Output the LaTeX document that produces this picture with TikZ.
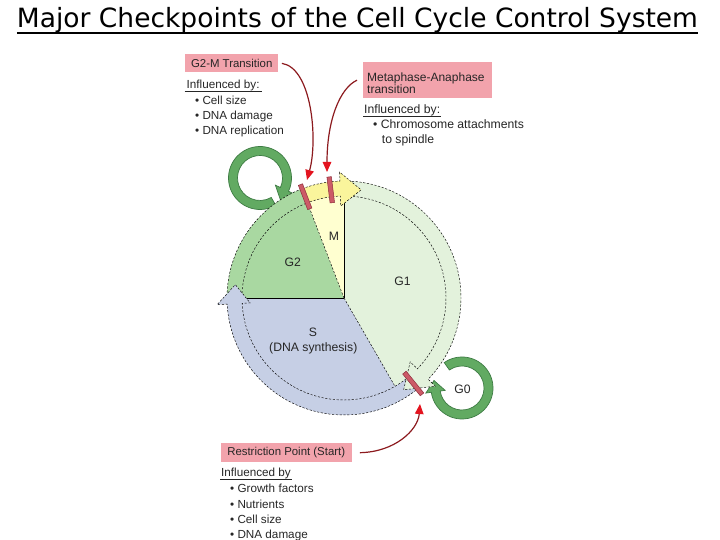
\documentclass[tikz,border=0pt]{standalone}
\usepackage{fontspec}
\setmainfont{Liberation Sans}
\newfontfamily\headfont{DejaVu Sans}
\usetikzlibrary{arrows.meta}
\definecolor{gonepale}{HTML}{E3F2DC}
\definecolor{gtwogreen}{HTML}{A9D8A1}
\definecolor{sblue}{HTML}{C6CFE5}
\definecolor{mpale}{HTML}{FFFFD0}
\definecolor{myellow}{HTML}{FAF59C}
\definecolor{tagpink}{HTML}{F2A3AC}
\definecolor{barfill}{HTML}{CC5A67}
\definecolor{bardark}{HTML}{8E2F3C}
\definecolor{loopfill}{HTML}{62AA62}
\definecolor{loopdark}{HTML}{3D7B43}
\definecolor{linkred}{HTML}{8C1A1E}
\definecolor{tipred}{HTML}{E3141F}
\definecolor{labeltext}{HTML}{262626}
\begin{document}
\begin{tikzpicture}[x=1pt,y=1pt,
  lbl/.style={font=\fontsize{11.7}{13}\selectfont, text=labeltext, inner sep=0pt},
  biglbl/.style={font=\fontsize{12.2}{13}\selectfont, text=labeltext, inner sep=0pt},
  tag/.style={fill=tagpink, font=\fontsize{11.4}{12}\selectfont, text=labeltext, anchor=north west, inner sep=0pt},
  phase/.style={font=\fontsize{12.2}{13}\selectfont, text=labeltext},
  band/.style={draw=black, line width=0.45pt, dash pattern=on 2.2pt off 1.6pt},
  pieline/.style={draw=black, line width=0.5pt},
  checkbar/.style={draw=bardark, fill=barfill, line width=0.5pt, minimum width=4.5pt, minimum height=26pt, inner sep=0pt},
  looparrow/.style={draw=loopdark, fill=loopfill, line width=0.7pt},
  link/.style={draw=linkred, line width=1.2pt, -{Triangle[length=10pt,width=8.5pt,color=tipred]}},
  uline/.style={draw=labeltext, line width=0.6pt}]
\useasboundingbox (0,0) rectangle (720,540);

\node[font=\headfont\fontsize{26.5}{30}\selectfont, anchor=base, inner sep=0pt] (title) at (357.5,512) {Major Checkpoints of the Cell Cycle Control System};
\draw[line width=1.6pt] ([yshift=-5pt]title.base west) -- ([yshift=-5pt]title.base east);

\begin{scope}[shift={(260,362)}]
\filldraw[looparrow] (-60:31.5) arc[start angle=-60, end angle=-385, radius=31.5] -- (-385:37) -- (-407:30) -- (-385:17) -- (-385:22.5) arc[start angle=-385, end angle=-60, radius=22.5] -- cycle;
\end{scope}
\begin{scope}[shift={(462,152)}]
\filldraw[looparrow] (125:31) arc[start angle=125, end angle=-172, radius=31] -- (-172:36.5) -- (-195:29) -- (-172:17) -- (-172:22) arc[start angle=-172, end angle=125, radius=22] -- cycle;
\end{scope}

\begin{scope}[shift={(344,242)}]
\fill[gonepale] (0,0) -- (90:102) arc[start angle=90, end angle=-60, radius=102] -- cycle;
\fill[sblue] (0,0) -- (-60:102) arc[start angle=-60, end angle=-180, radius=102] -- cycle;
\fill[gtwogreen] (0,0) -- (180:102) arc[start angle=180, end angle=111, radius=102] -- cycle;
\fill[mpale] (0,0) -- (111:102) arc[start angle=111, end angle=90, radius=102] -- cycle;
\draw[pieline] (0,0) -- (180:102);
\draw[pieline] (0,0) -- (90:96);
\draw[band] (0,0) -- (111:102);
\draw[band] (0,0) -- (-60:102);

\filldraw[gtwogreen, band] (181:117) arc[start angle=181, end angle=111, radius=117] -- (111:102) arc[start angle=111, end angle=181, radius=102] -- cycle;
\filldraw[sblue, band] (-52:117) arc[start angle=-52, end angle=-177, radius=117] -- (-177:127) -- (-187:109.5) -- (-177:94) -- (-177:102) arc[start angle=-177, end angle=-52, radius=102] -- cycle;
\filldraw[gonepale, band] (88:117) arc[start angle=88, end angle=-44, radius=117] -- (-44:127) -- (-57:109.5) -- (-44:92) -- (-44:102) arc[start angle=-44, end angle=88, radius=102] -- cycle;
\filldraw[myellow, band] (111:117) arc[start angle=111, end angle=92, radius=117] -- (92:126) -- (81:109.5) -- (92:92) -- (92:102) arc[start angle=92, end angle=111, radius=102] -- cycle;

\node[checkbar, rotate=21] (gmbar) at (111:108.5) {};
\node[checkbar, rotate=7] (mabar) at (97:109) {};
\node[checkbar, rotate=-141, minimum height=28pt] (rpbar) at (-51:110) {};
\end{scope}

\node[phase] (mlbl) at (334,304) {M};
\node[phase] (gtwolbl) at (292.7,277.7) {G2};
\node[phase] (gonelbl) at (402.5,259) {G1};
\node[phase] (slbl) at (313,207.5) {S};
\node[phase] (dnalbl) at (313.3,191.7) {(DNA synthesis)};
\node[phase] (gzerolbl) at (462.5,151) {G0};

\node[tag, minimum width=93pt, minimum height=18.3pt] (gmbox) at (185,486) {G2-M Transition};
\node[lbl, anchor=base west, inner xsep=2pt] (gminfl) at (184.5,451.5) {Influenced by:};
\draw[uline] ([yshift=-3pt]gminfl.base west) -- ([yshift=-3pt]gminfl.base east);
\node[lbl, anchor=base west] (gmone) at (195,435) {• Cell size};
\node[lbl, anchor=base west] (gmtwo) at (195,420) {• DNA damage};
\node[lbl, anchor=base west] (gmthree) at (195,405) {• DNA replication};

\node[tag, font=\fontsize{12}{12}\selectfont, text width=121pt, align=left, inner xsep=4pt, text height=14pt, minimum height=36.6pt] (mabox) at (363,478.3) {Metaphase-Anaphase\\transition};
\node[biglbl, anchor=base west, inner xsep=1pt] (mainfl) at (363,426.5) {Influenced by:};
\draw[uline] ([yshift=-2.5pt]mainfl.base west) -- ([yshift=-2.5pt]mainfl.base east);
\node[biglbl, anchor=base west] (maone) at (373,411.5) {• Chromosome attachments};
\node[biglbl, anchor=base west] (matwo) at (381.7,396.5) {to spindle};

\node[tag, minimum width=131pt, minimum height=19pt] (rpbox) at (220.5,97) {Restriction Point (Start)};
\node[lbl, anchor=base west, inner xsep=1pt] (rpinfl) at (220,63.5) {Influenced by};
\draw[uline] ([yshift=-3.3pt]rpinfl.base west) -- ([yshift=-3.3pt]rpinfl.base east);
\node[lbl, anchor=base west] (rpone) at (230,47) {• Growth factors};
\node[lbl, anchor=base west] (rptwo) at (230,31.7) {• Nutrients};
\node[lbl, anchor=base west] (rpthree) at (230,16.7) {• Cell size};
\node[lbl, anchor=base west] (rpfour) at (230,1.7) {• DNA damage};

\coordinate (gmtip) at (307,360);
\coordinate (matip) at (327,368);
\coordinate (rptip) at (420,136);
\draw[link] ([xshift=3.5pt]gmbox.east) .. controls (312,472) and (318,400) .. (gmtip);
\draw[link] ([xshift=-6pt]mabox.west) .. controls (340,452) and (327,420) .. (matip);
\draw[link] ([xshift=8pt]rpbox.east) .. controls (395,88) and (418,110) .. (rptip);
\end{tikzpicture}
\end{document}
